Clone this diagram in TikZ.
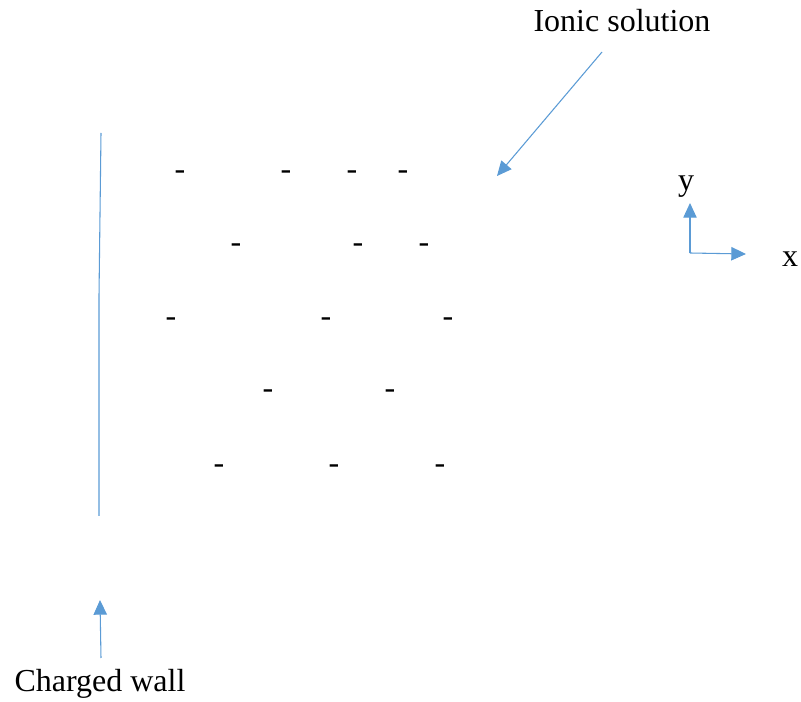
\documentclass[tikz,border=0pt]{standalone}
\usepackage{fontspec}
\setmainfont{Liberation Serif}
\usetikzlibrary{arrows.meta}
\definecolor{lineblue}{HTML}{5B9BD5}
\tikzset{
  bl/.style={draw=lineblue, line width=0.8pt},
  arr/.style={bl, -{Triangle[length=11pt,width=10pt]}},
  lbl/.style={font=\fontsize{24}{28}\selectfont, inner sep=0pt},
  ion/.style={font=\fontsize{24}{28}\selectfont, inner sep=0pt}
}
\begin{document}
\begin{tikzpicture}[x=0.75pt,y=-0.75pt]
\useasboundingbox (0,0) rectangle (801,702);
% wall
\coordinate (w1) at (101,133);
\coordinate (w2) at (99,296);
\coordinate (w3) at (99,516);
\draw[bl] (w1) -- (w2) -- (w3);
% labels
\node[lbl] (cw) at (100,684) {Charged wall};
\node[lbl] (is) at (622,21) {Ionic solution};
\coordinate (cwa) at (101,658);
\coordinate (cwb) at (100,600);
\draw[arr] (cwa) -- (cwb);
\coordinate (isa) at (602,52);
\coordinate (isb) at (497,176);
\draw[arr] (isa) -- (isb);
% axes
\coordinate (o) at (690,253);
\coordinate (ye) at (690,203);
\coordinate (xe) at (746,254);
\draw[arr] (o) -- (ye);
\draw[arr] (o) -- (xe);
\node[lbl] (yl) at (686,187) {y};
\node[lbl] (xl) at (790,259) {x};
% ions
\foreach \x/\y [count=\i] in {180/175,286/175,352/175,403/175,
  236/248,358/248,424/248,
  171/322,326/322,448/322,
  268/394,390/394,
  219/469,334/469,440/469}
  \node[ion] (ion\i) at (\x,\y) {-};
\end{tikzpicture}
\end{document}
